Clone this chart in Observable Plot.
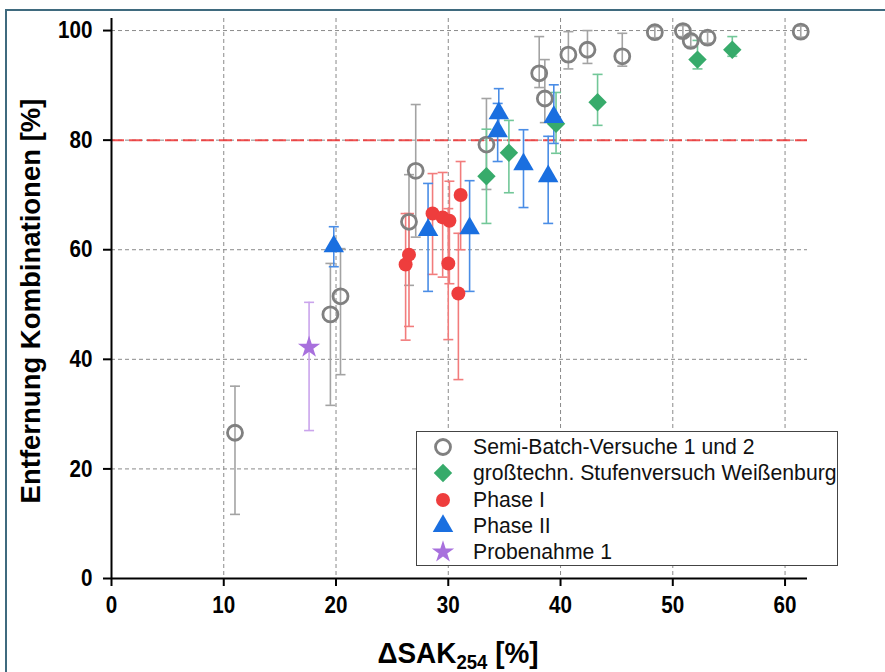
<!DOCTYPE html>
<html><head><meta charset="utf-8">
<script src="https://cdn.jsdelivr.net/npm/d3@7"></script>
<script src="https://cdn.jsdelivr.net/npm/@observablehq/plot@0.6"></script>
<style>
body{margin:0;background:#fff;}
#wrap{position:relative;width:885px;height:672px;overflow:hidden;background:#fff;}
#frame{position:absolute;left:5px;top:9px;width:1000px;height:1000px;border:2px solid #3f6a7e;box-sizing:border-box;}
#chart{position:absolute;left:0;top:0;}
#ylab{position:absolute;left:31px;top:301px;transform:translate(-50%,-50%) rotate(-90deg);white-space:nowrap;font:bold 27.5px "Liberation Sans",Arial,sans-serif;color:#000;}
#xlab{position:absolute;left:458px;top:636px;transform:translateX(-50%) scaleX(0.93);white-space:nowrap;font:bold 30px "Liberation Sans",Arial,sans-serif;color:#000;}
#xlab sub{font-size:20px;vertical-align:-6px;line-height:0;}
#legend{position:absolute;left:416px;top:431px;width:422px;height:135px;border:1px solid #444;background:#fff;box-sizing:border-box;font:21.2px "Liberation Sans",Arial,sans-serif;color:#111;}
.row{position:absolute;left:0;height:26px;}
.row svg{position:absolute;left:13px;top:0;}
.row span{position:absolute;left:56px;top:1px;white-space:nowrap;line-height:24px;}
</style></head>
<body><div id="wrap"><div id="frame"></div><div id="chart"></div>
<div id="ylab">Entfernung Kombinationen [%]</div>
<div id="xlab">ΔSAK<sub>254</sub> [%]</div>
<div id="legend"></div>
</div>
<script>
// ---- data ----
const semiX  = [11.0, 19.5, 20.4, 26.5, 27.1, 33.4, 38.1, 38.6, 40.7, 42.4, 45.5, 48.4, 50.9, 51.6, 53.1, 61.4];
const semiY  = [26.6, 48.2, 51.5, 65.1, 74.4, 79.2, 92.2, 87.6, 95.6, 96.5, 95.3, 99.7, 99.9, 98.1, 98.7, 99.8];
const semiHi = [35.1, 57.5, 60.2, 73.7, 86.5, 87.6, 98.9, 94.7, 99.8, 100.0, 99.5, 100.7, 100.9, 99.1, 99.7, 100.8];
const semiLo = [11.7, 31.6, 37.2, 53.5, 62.3, 71.0, 89.6, 83.2, 93.0, 94.0, 93.5, 98.7, 98.9, 97.1, 97.7, 98.8];

const greenX  = [33.4, 35.4, 39.6, 43.3, 52.2, 55.3];
const greenY  = [73.4, 77.7, 83.0, 86.9, 94.7, 96.5];
const greenHi = [82.0, 83.6, 88.7, 92.0, 98.2, 98.9];
const greenLo = [64.8, 70.4, 77.6, 82.7, 93.0, 95.3];

const redX  = [26.2, 26.5, 28.6, 29.5, 30.1, 30.0, 31.1, 30.9];
const redY  = [57.3, 59.1, 66.6, 65.9, 65.3, 57.5, 70.0, 52.0];
const redHi = [66.6, 66.6, 73.9, 74.1, 72.5, 67.5, 76.1, 63.0];
const redLo = [43.5, 46.0, 55.5, 55.0, 53.8, 43.6, 60.0, 36.3];

const blueX  = [19.8, 28.2, 31.9, 34.5, 34.4, 36.7, 38.9, 39.4];
const blueY  = [60.6, 63.6, 63.9, 84.9, 81.6, 75.6, 73.4, 84.2];
const blueHi = [64.2, 72.1, 72.6, 89.4, 86.7, 81.9, 80.7, 90.1];
const blueLo = [56.9, 52.4, 52.4, 81.0, 76.1, 67.7, 64.8, 79.4];

const starX  = [17.6];
const starY  = [42.2];
const starHi = [50.4];
const starLo = [27.0];

const xTicks = [0, 10, 20, 30, 40, 50, 60];
const yTicks = [0, 20, 40, 60, 80, 100];
const threshold = [80];
const seriesNames = ["Semi-Batch-Versuche 1 und 2", "großtechn. Stufenversuch Weißenburg", "Phase I", "Phase II", "Probenahme 1"];

// ---- build tables ----
const mk = (xs, ys, lo, hi) => xs.map((x, i) => ({x, y: ys[i], lo: lo[i], hi: hi[i]}));
const semi = mk(semiX, semiY, semiLo, semiHi);
const green = mk(greenX, greenY, greenLo, greenHi);
const red = mk(redX, redY, redLo, redHi);
const blue = mk(blueX, blueY, blueLo, blueHi);
const star = mk(starX, starY, starLo, starHi);

const cap = {draw(ctx, size) { const w = Math.sqrt(size / Math.PI); ctx.moveTo(-w, 0); ctx.lineTo(w, 0); }};

function errorBars(data, color) {
  return [
    Plot.ruleX(data, {x: "x", y1: "lo", y2: "hi", stroke: color, strokeWidth: 1.6}),
    Plot.dot(data, {x: "x", y: "lo", symbol: cap, r: 5, stroke: color, strokeWidth: 1.6, fill: "none"}),
    Plot.dot(data, {x: "x", y: "hi", symbol: cap, r: 5, stroke: color, strokeWidth: 1.6, fill: "none"})
  ];
}

const C = {
  semi: "#808080", semiE: "#a3a3a3",
  green: "#37ab6b", greenE: "#72c798",
  red: "#ee3d3d", redE: "#f27c7c",
  blue: "#1a6fe0", blueE: "#4a8de6",
  star: "#a870dd", starE: "#caa4ec"
};

const tickFont = {fontSize: 24, fontWeight: "bold", fontFamily: "'Liberation Sans',Arial,sans-serif"};

const chart = Plot.plot({
  width: 885, height: 672,
  marginLeft: 111, marginRight: 78, marginTop: 18, marginBottom: 94,
  style: {background: "transparent", color: "#000"},
  x: {domain: [0, 62]},
  y: {domain: [0, 102.2]},
  marks: [
    Plot.gridX({ticks: xTicks.filter(d => d > 0), stroke: "#8a8a8a", strokeOpacity: 1, strokeDasharray: "4,3", strokeWidth: 1}),
    Plot.gridY({ticks: yTicks.filter(d => d > 0), stroke: "#8a8a8a", strokeOpacity: 1, strokeDasharray: "4,3", strokeWidth: 1}),
    Plot.ruleY(threshold, {stroke: "#ee3333", strokeOpacity: 0.85, strokeWidth: 2, strokeDasharray: "13,5"}),
    Plot.axisX({ticks: xTicks, tickSize: 8, tickPadding: 9, label: null, strokeWidth: 2, ...tickFont}),
    Plot.axisY({ticks: yTicks, tickSize: 8, tickPadding: 11, label: null, strokeWidth: 2, ...tickFont}),
    Plot.ruleX([0], {y1: 0, y2: 102.2, stroke: "#000", strokeWidth: 2}),
    Plot.ruleY([0], {x1: 0, x2: 62, stroke: "#000", strokeWidth: 2}),
    ...errorBars(semi, C.semiE),
    ...errorBars(green, C.greenE),
    ...errorBars(red, C.redE),
    ...errorBars(blue, C.blueE),
    ...errorBars(star, C.starE),
    Plot.dot(semi, {x: "x", y: "y", symbol: "circle", r: 7.5, stroke: C.semi, strokeWidth: 2.8, fill: "none"}),
    Plot.dot(green, {x: "x", y: "y", symbol: "diamond2", r: 8.3, fill: C.green, stroke: "none"}),
    Plot.dot(red, {x: "x", y: "y", symbol: "circle", r: 7, fill: C.red, stroke: "none"}),
    Plot.dot(blue, {x: "x", y: "y", symbol: "triangle", r: 7.6, fill: C.blue, stroke: "none"}),
    Plot.dot(star, {x: "x", y: "y", symbol: "star", r: 7, fill: C.star, stroke: "none"})
  ]
});
// condensed look for tick labels
chart.querySelectorAll('g[aria-label$="tick label"] text').forEach(t => {
  const tr = t.getAttribute("transform") || "";
  t.setAttribute("transform", tr + " scale(0.86,1)");
});
document.getElementById("chart").appendChild(chart);

// ---- legend ----
const legendDefs = [
  {sym: d3.symbolCircle, r: 7.5, fill: "none", stroke: C.semi, sw: 2.8},
  {sym: d3.symbolDiamond2, r: 8.3, fill: C.green, stroke: "none", sw: 0},
  {sym: d3.symbolCircle, r: 7, fill: C.red, stroke: "none", sw: 0},
  {sym: d3.symbolTriangle, r: 7.6, fill: C.blue, stroke: "none", sw: 0},
  {sym: d3.symbolStar, r: 7, fill: C.star, stroke: "none", sw: 0}
];
const leg = document.getElementById("legend");
seriesNames.forEach((name, i) => {
  const d = legendDefs[i];
  const row = document.createElement("div");
  row.className = "row";
  row.style.top = (2 + i * 26.3) + "px";
  const path = d3.symbol(d.sym, d.r * d.r * Math.PI)();
  row.innerHTML = `<svg width="26" height="26" viewBox="-13 -13 26 26"><path d="${path}" fill="${d.fill}" stroke="${d.stroke}" stroke-width="${d.sw}"/></svg><span>${name}</span>`;
  leg.appendChild(row);
});
</script>
</body></html>
